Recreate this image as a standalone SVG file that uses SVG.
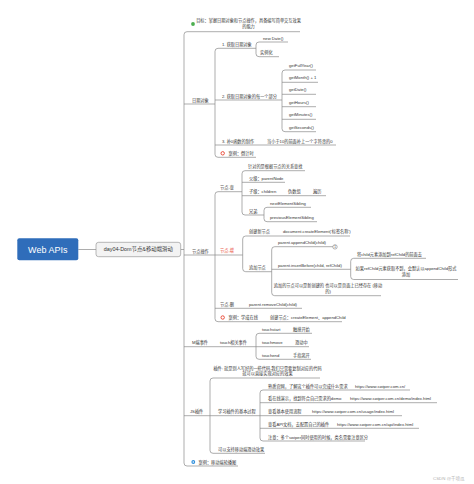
<svg xmlns="http://www.w3.org/2000/svg" width="474" height="484" viewBox="0 0 474 484">
<style>
.t{font-family:"Liberation Sans","Noto Sans CJK SC",sans-serif;font-size:4.2px;fill:#333}
.c{text-anchor:middle}
.red{fill:#e8412c}
.ln{fill:none;stroke:#8a8a8a;stroke-width:0.7}
.ic{fill:#fff;stroke:#e8412c;stroke-width:0.9}
</style>
<rect width="474" height="484" fill="#fff"/>
<g id="connectors" class="ln">
<path d="M78.3 249.5H96M180.7 249.5H184"/>
<path d="M187 31.7Q184 31.7 184 34.7V463Q184 466 187 466"/>
<path d="M218 48.3Q215 48.3 215 51.3V154.3Q215 157.3 218 157.3"/>
<path d="M259 42Q256 42 256 45V53.7Q256 56.7 259 56.7"/>
<path d="M285 70Q282 70 282 73V128.7Q282 131.7 285 131.7"/>
<path d="M218 191.7Q215 191.7 215 194.7V318.7Q215 321.7 218 321.7"/>
<path d="M245 170.7Q242 170.7 242 173.7V212Q242 215 245 215"/>
<path d="M267 207.3Q264 207.3 264 210.3V218.7Q264 221.7 267 221.7"/>
<path d="M245.7 236Q242.7 236 242.7 239V268.7Q242.7 271.7 245.7 271.7"/>
<path d="M274.7 246.7Q271.7 246.7 271.7 249.7V292.7Q271.7 295.7 274.7 295.7"/>
<path d="M353.7 258.3Q350.7 258.3 350.7 261.3V276.5Q350.7 279.5 353.7 279.5"/>
<path d="M259 333.3Q256 333.3 256 336.3V356.3Q256 359.3 259 359.3"/>
<path d="M213 378Q210 378 210 381V450.3Q210 453.3 213 453.3"/>
<path d="M263 390Q260 390 260 393V438Q260 441 263 441"/>
</g>
<g id="root">
<rect x="17.3" y="238.3" width="61" height="22" rx="2" fill="#2f6dba"/>
<text x="47.8" y="252.6" class="c" style="font-family:'Liberation Sans',sans-serif;font-size:9px;fill:#fff">Web APIs</text>
</g>
<g id="day04">
<rect x="96" y="242.3" width="84.7" height="14.4" rx="2.5" fill="#f3f3f3" stroke="#8a8a8a" stroke-width="0.6"/>
<text x="138.3" y="251.3" class="t c" style="font-size:5.4px">day04-Dom节点&amp;移动端滑动</text>
</g>
<g id="goal">
<circle cx="193" cy="24" r="1.9" fill="#4caf50"/>
<text x="248.5" y="22.3" class="t c">目标：掌握日期对象和节点操作，具备编写简单交互效果</text>
<text x="248.5" y="28" class="t c">的能力</text>
<path class="ln" d="M187 31.7H300"/>
</g>
<g id="date">
<text x="192" y="101.5" class="t">日期对象</text>
<path class="ln" d="M184 104H215"/>
</g>
<g id="date1">
<text x="222" y="45.8" class="t">1. 获取日期对象</text>
<path class="ln" d="M218 48.3H256"/>
</g>
<g id="newdate">
<text x="263" y="39.5" class="t">new Date()</text>
<path class="ln" d="M259 42H288"/>
</g>
<g id="shili">
<text x="260" y="54.2" class="t">实例化</text>
<path class="ln" d="M259 56.7H279"/>
</g>
<g id="date2">
<text x="222" y="97.5" class="t">2. 获取日期对象的每一个部分</text>
<path class="ln" d="M215 100H282"/>
</g>
<g id="getFullYear"><text x="289" y="67" class="t">getFullYear()</text><path class="ln" d="M285 70H316"/></g>
<g id="getMonth"><text x="289" y="79.3" class="t">getMonth() + 1</text><path class="ln" d="M282 82.3H318"/></g>
<g id="getDate"><text x="289" y="91.3" class="t">getDate()</text><path class="ln" d="M282 94.3H316"/></g>
<g id="getHours"><text x="289" y="103.7" class="t">getHours()</text><path class="ln" d="M282 106.7H316"/></g>
<g id="getMinutes"><text x="289" y="116.3" class="t">getMinutes()</text><path class="ln" d="M282 119.3H316"/></g>
<g id="getSeconds"><text x="289" y="128.7" class="t">getSeconds()</text><path class="ln" d="M285 131.7H316"/></g>
<g id="date3">
<text x="222" y="142.5" class="t">3. 补0函数的制作</text>
<text x="267" y="142.5" class="t">当小于10的前面补上一个字符串的0</text>
<path class="ln" d="M215 145H336"/>
</g>
<g id="case1">
<circle cx="222.7" cy="153.3" r="1.7" class="ic"/>
<text x="228.5" y="154.8" class="t">案例：倒计时</text>
<path class="ln" d="M218 157.3H256"/>
</g>
<g id="nodeops">
<text x="192" y="252.5" class="t">节点操作</text>
<path class="ln" d="M184 255H215"/>
</g>
<g id="nodefind">
<text x="220" y="189.2" class="t">节点-查</text>
<path class="ln" d="M218 191.7H242"/>
</g>
<g id="find0"><text x="248" y="168" class="t">针对的是根据节点的关系查找</text><path class="ln" d="M245 170.7H305"/></g>
<g id="find1"><text x="249" y="179.8" class="t">父级：parentNode</text><path class="ln" d="M242 182.3H285"/></g>
<g id="find2">
<text x="249" y="193.2" class="t">子级：children</text>
<text x="288" y="193.2" class="t">伪数组</text>
<text x="313" y="193.2" class="t">遍历</text>
<path class="ln" d="M242 195.7H326"/>
</g>
<g id="find3"><text x="249" y="212.5" class="t">兄弟</text><path class="ln" d="M245 215H264"/></g>
<g id="next"><text x="270" y="204.8" class="t">nextElementSibling</text><path class="ln" d="M267 207.3H311"/></g>
<g id="prev"><text x="270" y="219.2" class="t">previousElementSibling</text><path class="ln" d="M267 221.7H317"/></g>
<g id="nodeadd">
<text x="220" y="251.5" class="t red">节点-增</text>
<path class="ln" d="M215 255H242.7"/>
</g>
<g id="create">
<text x="249" y="233" class="t">创建新节点</text>
<text x="283" y="233" class="t">document.createElement('标签名称')</text>
<path class="ln" d="M245.7 236H350"/>
</g>
<g id="append">
<text x="249" y="269.2" class="t">追加节点</text>
<path class="ln" d="M245.7 271.7H271.7"/>
</g>
<g id="appendChild">
<text x="278" y="244.2" class="t">parent.appendChild(child)</text>
<path class="ln" d="M274.7 246.7H332.8"/>
<circle cx="335" cy="246.9" r="2.2" fill="#fff" stroke="#666" stroke-width="0.5"/>
<text x="335" y="248" class="t c" style="font-size:3px">1</text>
</g>
<g id="insertBefore">
<text x="278" y="266.8" class="t">parent.insertBefore(child, refChild)</text>
<path class="ln" d="M271.7 269.3H350.7"/>
</g>
<g id="ins1"><text x="357" y="255.8" class="t">将child元素添加到refChild的前面去</text><path class="ln" d="M353.7 258.3H426"/></g>
<g id="ins2">
<text x="406" y="270.3" class="t c">如果refChild元素获取不到，会默认以appendChild形式</text>
<text x="406" y="275.5" class="t c">添加</text>
<path class="ln" d="M353.7 279.5H458"/>
</g>
<g id="append3">
<text x="328" y="287.2" class="t c">追加的节点可以是新创建的 也可以是页面上已经存在 (移动</text>
<text x="328" y="292.5" class="t c">的)</text>
<path class="ln" d="M274.7 295.7H381"/>
</g>
<g id="nodedel">
<text x="220" y="305.8" class="t">节点-删</text>
<text x="249" y="305.8" class="t">parent.removeChild(child)</text>
<path class="ln" d="M215 308.3H302"/>
</g>
<g id="case2">
<circle cx="222.7" cy="317.5" r="1.7" class="ic"/>
<text x="228.5" y="319.2" class="t">案例：学成在线</text>
<text x="270" y="319.2" class="t">创建节点：createElement、appendChild</text>
<path class="ln" d="M218 321.7H342"/>
</g>
<g id="mevent">
<text x="192" y="344.2" class="t">M端事件</text>
<text x="220" y="344.2" class="t">touch相关事件</text>
<path class="ln" d="M184 346.7H256"/>
</g>
<g id="touchstart"><text x="262" y="330.8" class="t">touchstart</text><text x="293" y="330.8" class="t">触摸开始</text><path class="ln" d="M259 333.3H312"/></g>
<g id="touchmove"><text x="262" y="344.2" class="t">touchmove</text><text x="295" y="344.2" class="t">滑动中</text><path class="ln" d="M256 346.7H309"/></g>
<g id="touchend"><text x="262" y="356.8" class="t">touchend</text><text x="293" y="356.8" class="t">手指离开</text><path class="ln" d="M259 359.3H311"/></g>
<g id="plugin">
<text x="190" y="413.2" class="t">JS插件</text>
<path class="ln" d="M184 415.7H210"/>
</g>
<g id="plugindesc">
<text x="267.5" y="369.5" class="t c">插件: 就是别人写好的一些代码,我们只需要复制对应的代码</text>
<text x="267.5" y="375" class="t c">就可以直接实现对应的效果</text>
<path class="ln" d="M213 378H320"/>
</g>
<g id="learn">
<text x="218" y="413.2" class="t">学习插件的基本过程</text>
<path class="ln" d="M210 415.7H260"/>
</g>
<g id="l1"><text x="268" y="387.5" class="t">熟悉官网，了解这个插件可以完成什么需求</text><text x="355" y="387.5" class="t">https://www.swiper.com.cn/</text><path class="ln" d="M263 390H410"/></g>
<g id="l2"><text x="268" y="400.2" class="t">看在线演示，找到符合自己需求的demo</text><text x="350" y="400.2" class="t">https://www.swiper.com.cn/demo/index.html</text><path class="ln" d="M260 402.7H437"/></g>
<g id="l3"><text x="268" y="413.2" class="t">查看基本使用流程</text><text x="312" y="413.2" class="t">https://www.swiper.com.cn/usage/index.html</text><path class="ln" d="M260 415.7H402"/></g>
<g id="l4"><text x="268" y="425.8" class="t">查看API文档，去配置自己的插件</text><text x="337" y="425.8" class="t">https://www.swiper.com.cn/api/index.html</text><path class="ln" d="M260 428.3H419"/></g>
<g id="l5"><text x="268" y="438.5" class="t">注意：多个swiper同时使用的时候，类名需要注意区分</text><path class="ln" d="M263 441H365"/></g>
<g id="support">
<text x="218" y="450.8" class="t">可以支持移动端滑动效果</text>
<path class="ln" d="M213 453.3H265"/>
</g>
<g id="case3">
<circle cx="193.3" cy="462" r="1.9" fill="#2f8fdc"/>
<circle cx="193.3" cy="462" r="0.8" fill="#fff"/>
<text x="198.5" y="463.5" class="t">案例：移动端轮播图</text>
<path class="ln" d="M187 466H238"/>
</g>
<text x="433" y="480" class="t" style="fill:#b0b0b0;font-size:4.4px">CSDN @千顷瓜</text>
</svg>
